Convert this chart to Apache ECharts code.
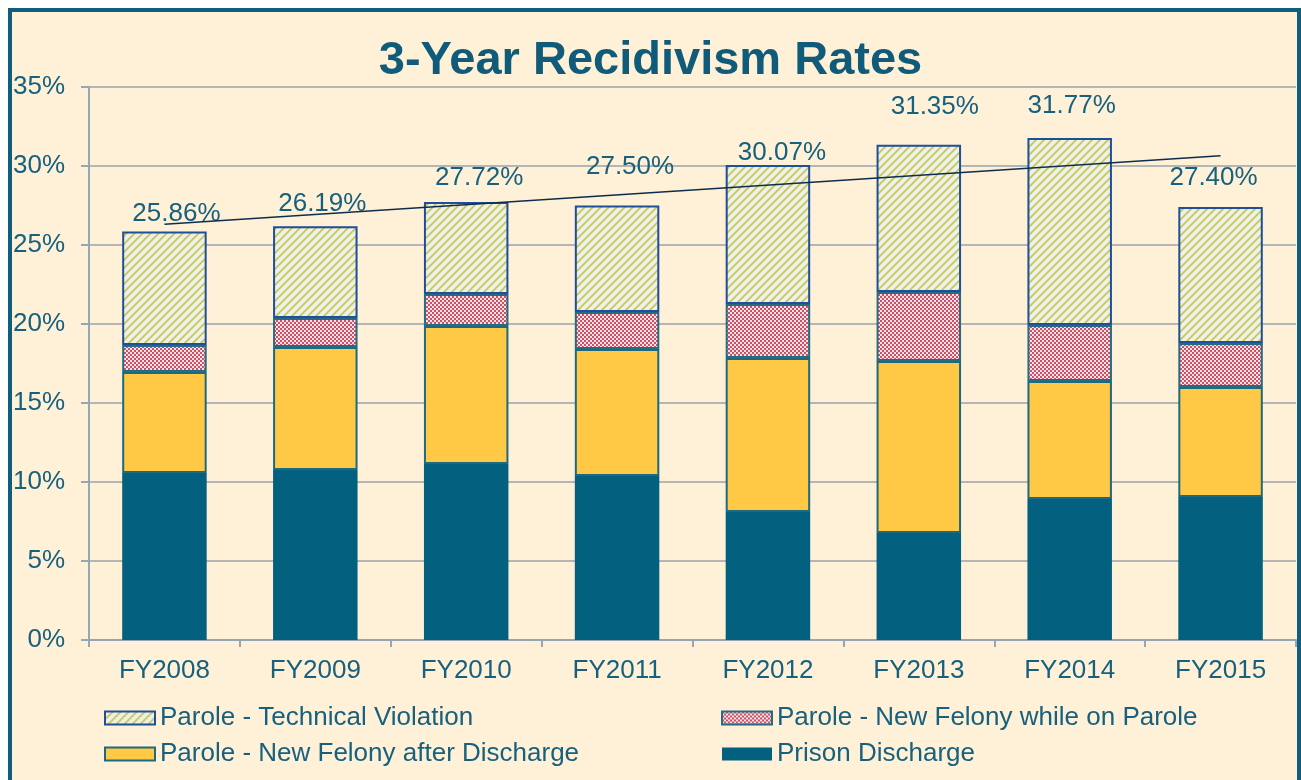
<!DOCTYPE html>
<html>
<head>
<meta charset="utf-8">
<script src="https://cdn.jsdelivr.net/npm/echarts@6/dist/echarts.min.js"></script>
<style>
  html, body { margin: 0; padding: 0; background: #ffffff; }
  #frame {
    position: absolute; left: 8px; top: 8px; width: 1285px; height: 800px;
    background: #FEF1D8; border: 4px solid #0F5E7D; border-bottom: none;
  }
  #main { position: absolute; left: 0; top: 0; width: 1301px; height: 780px; }
</style>
</head>
<body>
<div id="frame"></div>
<div id="main"></div>
<script>
// values (percent)
var years = ['FY2008', 'FY2009', 'FY2010', 'FY2011', 'FY2012', 'FY2013', 'FY2014', 'FY2015'];
var prisonDischarge = [10.57, 10.76, 11.14, 10.38, 8.10, 6.77, 8.92, 9.05];
var afterDischarge = [6.39, 7.78, 8.73, 8.04, 9.75, 10.89, 7.47, 6.96];
var whileOnParole = [1.71, 1.84, 2.03, 2.34, 3.42, 4.37, 3.55, 2.79];
var totals = [25.86, 26.19, 27.72, 27.50, 30.07, 31.35, 31.77, 27.40];
// technical violation is what is left up to the printed total
var technical = totals.map(function (t, i) {
    return +(t - prisonDischarge[i] - afterDischarge[i] - whileOnParole[i]).toFixed(2);
});
// trend line ends, as drawn on the picture
var trendEnds = [26.31, 30.65];
var yTicks = [0, 5, 10, 15, 20, 25, 30, 35];

// where each total label sits relative to the bar top (layout only)
var labelShift = [[12, -5], [7, -9], [13, -11], [13, -26], [14, 1], [16, -25], [2, -19], [-7, -16]];

var txt = '#17607E';
var font = 'Arial, "Liberation Sans", sans-serif';

function stripes() {
    var c = document.createElement('canvas');
    c.width = 8; c.height = 8;
    var g = c.getContext('2d');
    g.fillStyle = '#EEF0EA';
    g.fillRect(0, 0, 8, 8);
    g.strokeStyle = '#C4C74C';
    g.lineWidth = 1.6;
    [[-4, 4, 4, -4], [0, 8, 8, 0], [4, 12, 12, 4]].forEach(function (l) {
        g.beginPath(); g.moveTo(l[0], l[1]); g.lineTo(l[2], l[3]); g.stroke();
    });
    return c;
}
function checks() {
    var c = document.createElement('canvas');
    c.width = 4; c.height = 4;
    var g = c.getContext('2d');
    g.fillStyle = '#F3E4E6';
    g.fillRect(0, 0, 4, 4);
    g.fillStyle = '#D04E68';
    g.fillRect(0, 0, 2, 2);
    g.fillRect(2, 2, 2, 2);
    return c;
}

var trendData = years.map(function () { return null; });
trendData[0] = trendEnds[0];
trendData[years.length - 1] = trendEnds[1];

var myChart = echarts.init(document.getElementById('main'));
var option = {
    animation: false,
    title: {
        text: '3-Year Recidivism Rates',
        left: 'center',
        top: 33,
        textStyle: { fontSize: 47, fontWeight: 'bold', color: '#0F5B79', fontFamily: font }
    },
    legend: [
        {
            orient: 'vertical', left: 99, top: 700, itemGap: 10,
            itemWidth: 50, itemHeight: 13, icon: 'rect',
            textStyle: { fontSize: 26, color: txt, fontFamily: font },
            data: ['Parole - Technical Violation', 'Parole - New Felony after Discharge']
        },
        {
            orient: 'vertical', left: 716, top: 700, itemGap: 10,
            itemWidth: 50, itemHeight: 13, icon: 'rect',
            textStyle: { fontSize: 26, color: txt, fontFamily: font },
            data: ['Parole - New Felony while on Parole', 'Prison Discharge']
        }
    ],
    grid: { left: 89, right: 5, top: 87, bottom: 140 },
    xAxis: {
        type: 'category',
        data: years,
        axisLine: { lineStyle: { color: '#97A6B4', width: 2 } },
        axisTick: { show: true, length: 7, lineStyle: { color: '#97A6B4', width: 2 } },
        axisLabel: { fontSize: 26, color: txt, fontFamily: font, margin: 18 }
    },
    yAxis: {
        type: 'value',
        min: yTicks[0], max: yTicks[yTicks.length - 1], interval: 5,
        axisLine: { show: true, lineStyle: { color: '#97A6B4', width: 2 } },
        axisTick: { show: true, length: 8, lineStyle: { color: '#97A6B4', width: 2 } },
        axisLabel: { fontSize: 26, color: txt, fontFamily: font, margin: 24, formatter: '{value}%' },
        splitLine: { lineStyle: { color: '#B3B6B4', width: 2 } }
    },
    series: [
        {
            name: 'Prison Discharge', type: 'bar', stack: 'r', barWidth: '56%',
            data: prisonDischarge,
            itemStyle: { color: '#03607F' }
        },
        {
            name: 'Parole - New Felony after Discharge', type: 'bar', stack: 'r',
            data: afterDischarge,
            itemStyle: { color: '#FFC845', borderColor: '#1D6A80', borderWidth: 2 }
        },
        {
            name: 'Parole - New Felony while on Parole', type: 'bar', stack: 'r',
            data: whileOnParole,
            itemStyle: { color: { image: checks(), repeat: 'repeat' }, borderColor: '#236C82', borderWidth: 2 }
        },
        {
            name: 'Parole - Technical Violation', type: 'bar', stack: 'r',
            data: technical.map(function (v, i) {
                return { value: v, label: { offset: labelShift[i] } };
            }),
            itemStyle: { color: { image: stripes(), repeat: 'repeat' }, borderColor: '#1F4E9A', borderWidth: 2 },
            label: {
                show: true, position: 'top', distance: 0,
                fontSize: 26, color: txt, fontFamily: font,
                formatter: function (p) { return totals[p.dataIndex].toFixed(2) + '%'; }
            }
        },
        {
            name: 'trend', type: 'line', data: trendData, connectNulls: true,
            symbol: 'none', silent: true, z: 5,
            lineStyle: { color: '#0D2D4D', width: 1.5 }
        }
    ]
};
myChart.setOption(option);
</script>
</body>
</html>
